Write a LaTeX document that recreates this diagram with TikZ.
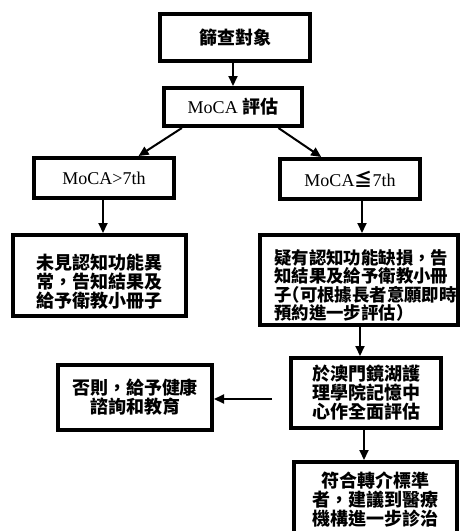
\documentclass[tikz,border=0pt]{standalone}
\usepackage{fontspec}
\setmainfont{Liberation Serif}
\newfontfamily\cjk{Noto Sans CJK TC}
\usetikzlibrary{arrows.meta,calc}
\tikzset{
  box/.style={draw, line width=4pt, inner sep=0pt},
  txt/.style={inner sep=0pt, align=center, font=\cjk\bfseries\fontsize{18}{19}\selectfont},
  lat/.style={inner sep=0pt, font=\fontsize{18}{19}\selectfont},
  arr/.style={line width=2pt, -{Triangle[length=10pt,width=9pt]}},
}
\begin{document}
\begin{tikzpicture}[x=1pt,y=-1pt]
\useasboundingbox (0,0) rectangle (460,531);
\fill[white] (0,0) rectangle (460,531);
\clip (0,0) rectangle (460,531);
% boxes
\node[box, txt, minimum width=150pt, minimum height=47pt] (n1) at (235,37.5) {篩查對象};
\node[box, lat, minimum width=138pt, minimum height=38pt] (n2) at (233,107) {MoCA {\cjk\bfseries 評估}};
\node[box, lat, minimum width=140pt, minimum height=40pt] (n3) at (104,178) {MoCA>7th};
\node[box, lat, minimum width=140pt, minimum height=40pt] (n4) at (350,179) {MoCA{\cjk\bfseries ≦}7th};
\node[box, minimum width=173pt, minimum height=81pt] (n5) at (99.5,275.5) {};
\node[txt] (t5) at (100,281.5) {未見認知功能異\\常，告知結果及\\給予衛教小冊子};
\node[box, minimum width=198pt, minimum height=90pt] (n6) at (359,280) {};
\node[txt, anchor=west, text width=200pt, align=left, font=\cjk\bfseries\fontsize{17.4}{18.5}\selectfont] (t6) at (274,285.5) {疑有認知功能缺損，告\\知結果及給予衛教小冊\\子\kern-9pt（可根據長者意願即時\\預約進一步評估）};
\node[box, txt, minimum width=150pt, minimum height=70pt] (n7) at (366,393) {於澳門鏡湖護\\理學院記憶中\\心作全面評估};
\node[box, txt, minimum width=154pt, minimum height=65pt] (n8) at (135,397.5) {否則，給予健康\\諮詢和教育};
\node[box, minimum width=163pt, minimum height=83pt] (n9) at (375.5,503.5) {};
\node[txt] (t9) at (375,500) {符合轉介標準\\者，建議到醫療\\機構進一步診治};
% connectors
\draw[arr] (n2.north |- n1.south) -- (n2.north);
\draw[arr] ($(n2.south west)!0.14!(n2.south east)$) -- ($(n3.north west)!0.74!(n3.north east)$);
\draw[arr] ($(n2.south west)!0.82!(n2.south east)$) -- ($(n4.north west)!0.3!(n4.north east)$);
\draw[arr] ([xshift=-1pt]n3.south) -- ([xshift=-1pt]n3.south |- n5.north);
\draw[arr] ([xshift=12pt]n4.south) -- ([xshift=12pt]n4.south |- n6.north);
\draw[arr] ([xshift=1pt]n6.south) -- ([xshift=1pt]n6.south |- n7.north);
\coordinate (c78) at (272,399);
\draw[arr] (c78) -- (c78 -| n8.east);
\draw[arr] ([xshift=-2pt]n7.south) -- ([xshift=-2pt]n7.south |- n9.north);
\end{tikzpicture}
\end{document}
